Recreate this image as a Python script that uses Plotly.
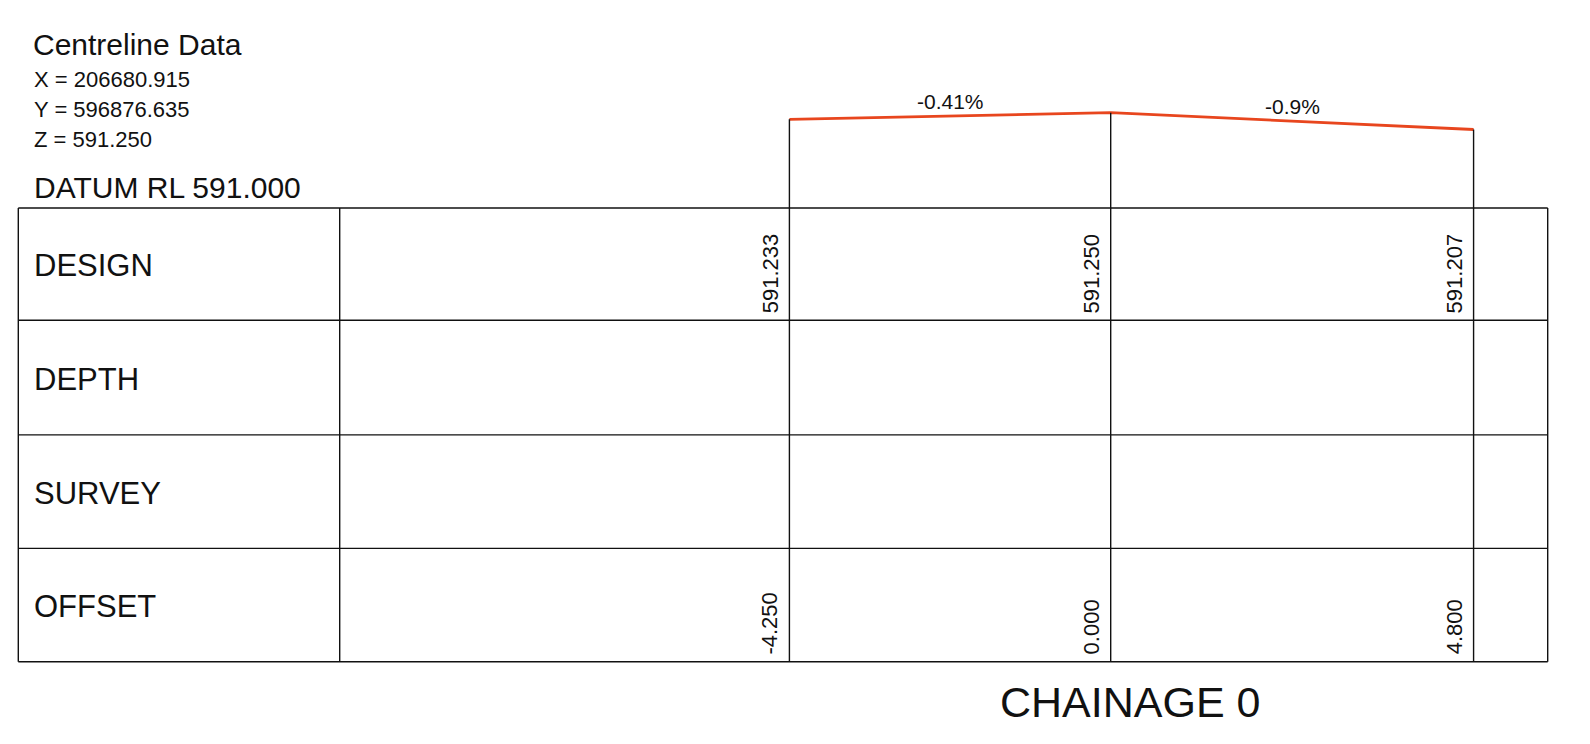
import plotly.graph_objects as go

# ---- data ----
offsets = [-4.250, 0.000, 4.800]
design = [591.233, 591.250, 591.207]
offset_labels = ["-4.250", "0.000", "4.800"]
design_labels = ["591.233", "591.250", "591.207"]
grade_labels = ["-0.41%", "-0.9%"]
row_names = ["DESIGN", "DEPTH", "SURVEY", "OFFSET"]
centreline_title = "Centreline Data"
centreline_lines = ["X = 206680.915", "Y = 596876.635", "Z = 591.250"]
datum_text = "DATUM RL 591.000"
chainage_text = "CHAINAGE 0"

W, H = 1590, 744
X_RANGE = [-14.692, 6.340]
Y_RANGE = [589.6313, 591.5390]

FONT = "Liberation Sans, Arial, sans-serif"
NARROW = "Liberation Sans Narrow, Arial Narrow, Liberation Sans, Arial, sans-serif"
RED = "#E8461E"


def py(px):
    """pixel from top -> paper y"""
    return 1 - px / H


def px_(x):
    return x / W


def paper_to_elev(p):
    return Y_RANGE[0] + p * (Y_RANGE[1] - Y_RANGE[0])


# table geometry (paper)
tab_left, tab_right, lab_col = px_(18.3), px_(1547.7), px_(339.7)
row_lines = [py(208.0), py(320.3), py(434.9), py(548.4), py(661.7)]

fig = go.Figure()

# design grade line
fig.add_trace(go.Scatter(x=offsets, y=design, mode="lines",
                         line=dict(color=RED, width=2.8), hoverinfo="skip",
                         showlegend=False))

shapes = []
# table frame
for yl in row_lines:
    shapes.append(dict(type="line", xref="paper", yref="paper", x0=tab_left, x1=tab_right,
                       y0=yl, y1=yl, line=dict(color="#111", width=1.4)))
for xv in [tab_left, lab_col, tab_right]:
    shapes.append(dict(type="line", xref="paper", yref="paper", x0=xv, x1=xv,
                       y0=row_lines[-1], y1=row_lines[0], line=dict(color="#111", width=1.4)))
# station verticals from design level to table bottom
bottom_elev = paper_to_elev(row_lines[-1])
for o, z in zip(offsets, design):
    shapes.append(dict(type="line", xref="x", yref="y", x0=o, x1=o, y0=z, y1=bottom_elev,
                       line=dict(color="#111", width=1.4)))

ann = []
# header texts
ann.append(dict(text=centreline_title, x=px_(31), y=py(44.5), xref="paper", yref="paper",
                xanchor="left", yanchor="middle", showarrow=False,
                font=dict(family=FONT, size=30, color="#111")))
for i, t in enumerate(centreline_lines):
    ann.append(dict(text=t, x=px_(31.5), y=py(79.3 + 30 * i), xref="paper", yref="paper",
                    xanchor="left", yanchor="middle", showarrow=False,
                    font=dict(family=FONT, size=22, color="#111")))
ann.append(dict(text=datum_text, x=px_(31.5), y=py(187.5), xref="paper", yref="paper",
                xanchor="left", yanchor="middle", showarrow=False,
                font=dict(family=FONT, size=30, color="#111")))
# row labels
for i, name in enumerate(row_names):
    ann.append(dict(text=name, x=px_(31.5), y=py(265.8 + 113.6 * i), xref="paper", yref="paper",
                    xanchor="left", yanchor="middle", showarrow=False,
                    font=dict(family=FONT, size=31, color="#111")))
# rotated values
for o, lab in zip(offsets, design_labels):
    ann.append(dict(text=lab, x=o, y=row_lines[1] + 5 / H, xref="x", yref="paper",
                    xanchor="right", yanchor="bottom", xshift=-5, textangle=-90,
                    showarrow=False, font=dict(family=FONT, size=22, color="#111")))
for o, lab in zip(offsets, offset_labels):
    ann.append(dict(text=lab, x=o, y=row_lines[4] + 5 / H, xref="x", yref="paper",
                    xanchor="right", yanchor="bottom", xshift=-5, textangle=-90,
                    showarrow=False, font=dict(family=FONT, size=22, color="#111")))
# grade labels
for i, g in enumerate(grade_labels):
    xm = (offsets[i] + offsets[i + 1]) / 2
    zm = (design[i] + design[i + 1]) / 2
    ann.append(dict(text=g, x=xm, y=zm, xref="x", yref="y", xanchor="center",
                    yanchor="middle", yshift=15, showarrow=False,
                    font=dict(family=FONT, size=21, color="#111")))
# chainage
ann.append(dict(text=chainage_text, x=px_(1130), y=py(702), xref="paper", yref="paper",
                xanchor="center", yanchor="middle", showarrow=False,
                font=dict(family=NARROW, size=43, color="#111")))

fig.update_layout(
    width=W, height=H, autosize=False,
    margin=dict(l=0, r=0, t=0, b=0, pad=0),
    paper_bgcolor="white", plot_bgcolor="white",
    xaxis=dict(range=X_RANGE, visible=False, showgrid=False, zeroline=False, fixedrange=True),
    yaxis=dict(range=Y_RANGE, visible=False, showgrid=False, zeroline=False, fixedrange=True),
    shapes=shapes, annotations=ann, showlegend=False,
)

fig.write_html("out.html", config={"displayModeBar": False},
               post_script="document.body.style.margin='0';document.body.style.overflow='hidden';")
